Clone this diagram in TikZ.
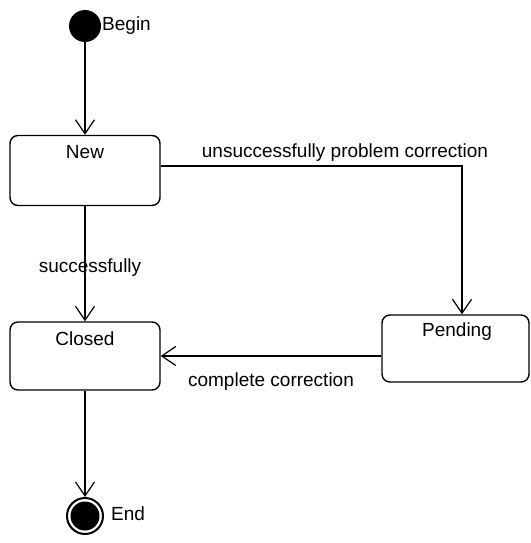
\documentclass[tikz,border=0pt]{standalone}
\usepackage{fontspec}
\setmainfont{Liberation Sans}
\usetikzlibrary{arrows.meta,calc}
\begin{document}
\begin{tikzpicture}[x=1pt,y=-1pt,
  state/.style={draw, line width=1.4pt, rounded corners=8pt,
    minimum width=150pt, minimum height=70pt, inner sep=0pt},
  txt/.style={font=\fontsize{19}{19}\selectfont, inner sep=0pt},
  flow/.style={line width=1.2pt,
    -{Straight Barb[length=14pt,width=19pt,line width=1.2pt]}},
]
\useasboundingbox (0,0) rectangle (530,543);

% initial and final pseudo-states
\node[circle, fill=black, minimum size=32pt, inner sep=0pt] (begin) at (85,26) {};
\node[txt, anchor=west] (beginlbl) at (102,26) {Begin};
\node[circle, draw, line width=2pt, minimum size=36pt, inner sep=0pt] (end) at (85,516) {};
\fill (end.center) circle (14.5pt);
\node[txt, anchor=west] (endlbl) at (111,514) {End};

% states
\node[state] (new) at (85,170.5) {};
\node[txt] (newtxt) at (85,152) {New};
\node[state, minimum height=68pt] (closed) at (85,356) {};
\node[txt] (closedtxt) at (85,339) {Closed};
\node[state, minimum width=147pt, minimum height=67pt] (pending) at (455.5,348.5) {};
\node[txt] (pendingtxt) at (457,332) {Pending};

% transitions
\draw[flow] (begin.south) -- (new.north);
\draw[flow] ($(new.east)+(0,-4.5)$) -| ($(pending.north)+(6.5,0)$);
\node[txt] (unsucc) at (345,153) {unsuccessfully problem correction};
\draw[flow] (new.south) -- (closed.north);
\node[txt] (succ) at (90,268) {successfully};
\draw[flow] (pending.west |- closed.east) -- (closed.east);
\node[txt] (complete) at (271,382) {complete correction};
\draw[flow] (closed.south) -- (end.north);
\end{tikzpicture}
\end{document}
